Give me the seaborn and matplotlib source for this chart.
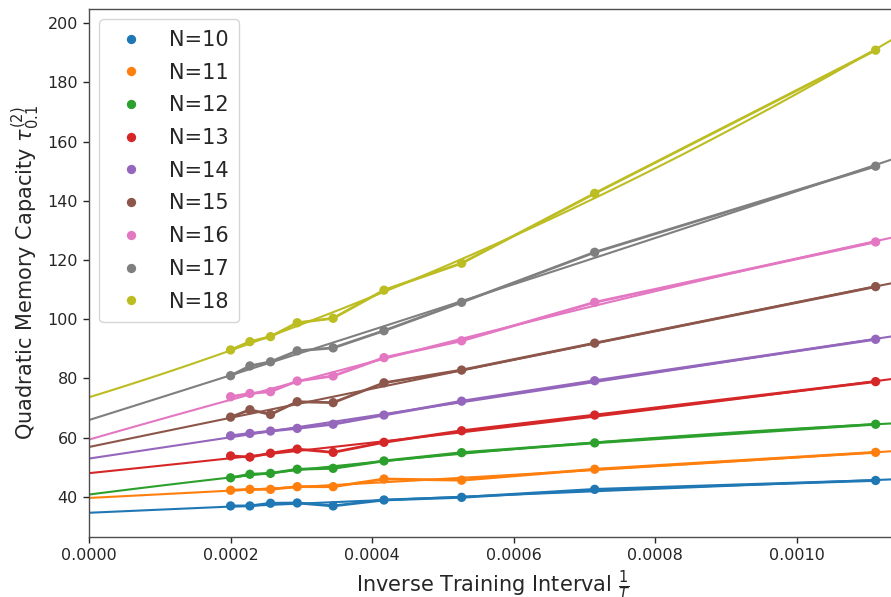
import numpy as np
import pandas as pd
import matplotlib
matplotlib.use("Agg")
import matplotlib.pyplot as plt
import seaborn as sns

# training intervals T = 5000 ... 900, plotted as 1/T
inv_T = [1/5000, 1/4400, 1/3900, 1/3400, 1/2900, 1/2400, 1/1900, 1/1400, 1/900]

# quadratic memory capacity, one list per N
cap_10 = [36.9, 36.9, 37.8, 37.9, 36.9, 38.9, 39.8, 42.5, 45.5]
cap_11 = [42.2, 42.5, 42.5, 43.4, 43.4, 46.0, 45.6, 49.3, 55.0]
cap_12 = [46.4, 47.6, 47.9, 49.3, 49.6, 52.1, 54.9, 58.2, 64.5]
cap_13 = [53.8, 53.4, 54.7, 56.1, 55.0, 58.4, 62.3, 67.6, 78.9]
cap_14 = [60.6, 61.4, 62.2, 63.1, 64.5, 67.6, 72.3, 79.2, 93.2]
cap_15 = [66.9, 69.4, 67.8, 72.1, 71.8, 78.5, 82.8, 91.9, 111.0]
cap_16 = [73.8, 74.9, 75.5, 79.1, 80.8, 87.0, 92.7, 105.7, 126.1]
cap_17 = [80.9, 84.2, 85.6, 89.3, 90.3, 96.1, 105.7, 122.6, 151.7]
cap_18 = [89.6, 92.4, 94.1, 98.8, 100.3, 109.8, 118.9, 142.5, 190.9]

sizes = [10, 11, 12, 13, 14, 15, 16, 17, 18]
caps = [cap_10, cap_11, cap_12, cap_13, cap_14, cap_15, cap_16, cap_17, cap_18]

rows = []
for n, vals in zip(sizes, caps):
    for x, y in zip(inv_T, vals):
        rows.append({"inv_T": x, "cap": y, "N": f"N={n}"})
df = pd.DataFrame(rows)

sns.set_style("ticks")
plt.rcParams["font.family"] = ["DejaVu Sans"]

colors = sns.color_palette("tab10", len(sizes))
labels = [f"N={n}" for n in sizes]

fig = plt.figure(figsize=(8.91, 5.97), dpi=100)
ax = fig.add_axes([0.0999, 0.1005, 0.9058, 0.8844])
ax.set_xlim(0, 0.00114)
ax.set_ylim(26.4, 204.8)

# fitted quadratic trends, extended over the whole x range
for lab, col in zip(labels, colors):
    sub = df[df["N"] == lab]
    sns.regplot(data=sub, x="inv_T", y="cap", order=2, ci=None, scatter=False,
                truncate=False, color=col, line_kws={"lw": 1.5}, ax=ax)

# measured points joined in order
sns.lineplot(data=df, x="inv_T", y="cap", hue="N", palette=colors,
             hue_order=labels, lw=2, legend=False, ax=ax, sort=True)
sns.scatterplot(data=df, x="inv_T", y="cap", hue="N", palette=colors,
                hue_order=labels, s=45, edgecolor="none", ax=ax, zorder=5)

ax.set_xlim(0, 0.00114)
ax.set_ylim(26.4, 204.8)
ax.set_xticks([0, 0.0002, 0.0004, 0.0006, 0.0008, 0.0010])
ax.set_xticklabels(["0.0000", "0.0002", "0.0004", "0.0006", "0.0008", "0.0010"])
ax.tick_params(labelsize=11.5, length=4.5, width=1, colors="0.15")
for s in ax.spines.values():
    s.set_color("0.3")
    s.set_linewidth(1)

ax.set_xlabel(r"Inverse Training Interval $\frac{1}{T}$", fontsize=15)
ax.set_ylabel(r"Quadratic Memory Capacity $\tau^{(2)}_{0.1}$", fontsize=15)

handles, labs = ax.get_legend_handles_labels()
ax.legend(handles, labs, loc="upper left", fontsize=15, handletextpad=0.85,
          labelspacing=0.61, borderpad=0.5, frameon=True, fancybox=True)

fig.savefig("out.png", dpi=100)
